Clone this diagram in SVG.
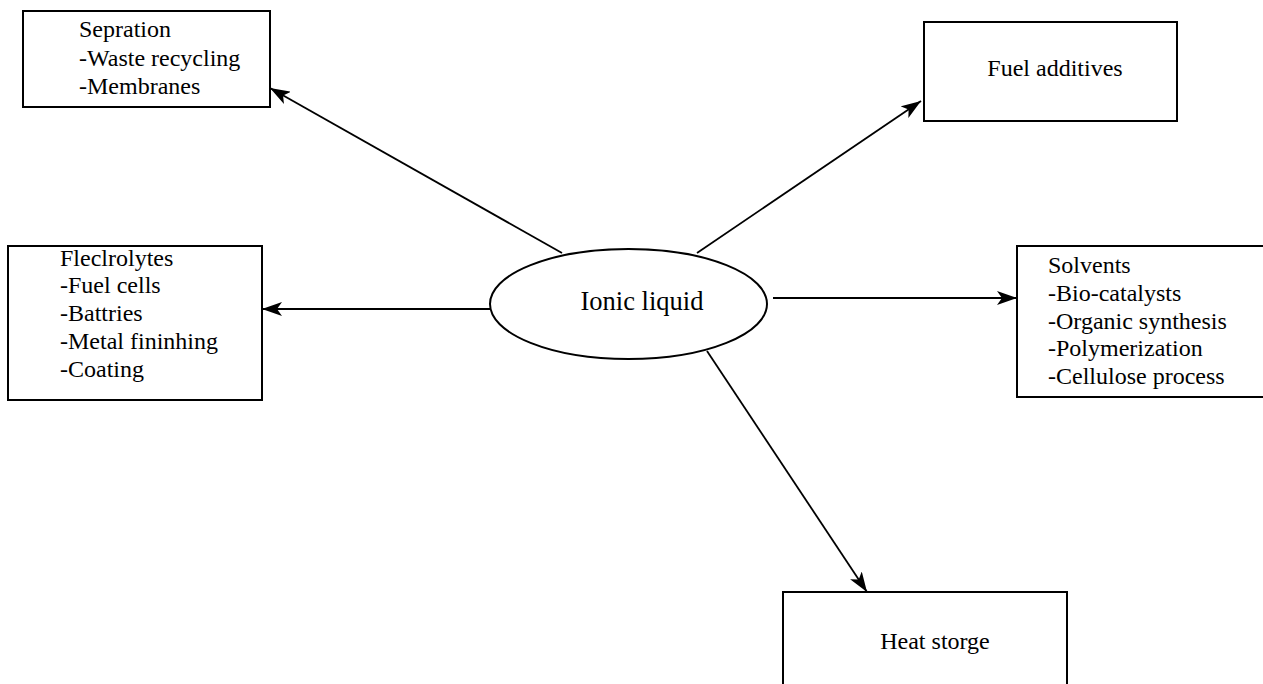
<svg xmlns="http://www.w3.org/2000/svg" width="1263" height="684" viewBox="0 0 1263 684">
<style>
.box{fill:#fff;stroke:#000;stroke-width:2}
.t{font-family:"Liberation Serif","Times New Roman",serif;font-size:24px;fill:#000}
.c{text-anchor:middle}
.ln{stroke:#000;stroke-width:1.8;fill:none;marker-end:url(#ah)}
</style>
<defs>
<marker id="ah" markerUnits="userSpaceOnUse" markerWidth="22" markerHeight="14" refX="20" refY="7" orient="auto">
<path d="M0,0 L20,7 L0,14 L5,7 z" fill="#000"/>
</marker>
</defs>
<rect width="1263" height="684" fill="#fff"/>
<g id="connectors">
<line class="ln" x1="562" y1="253" x2="270" y2="88"/>
<line class="ln" x1="697" y1="253" x2="921" y2="101"/>
<line class="ln" x1="490" y1="309" x2="262" y2="309"/>
<line class="ln" x1="773" y1="298" x2="1017" y2="298"/>
<line class="ln" x1="707" y1="351" x2="867" y2="592"/>
</g>
<g id="ionic">
<ellipse cx="628.5" cy="304" rx="138.5" ry="55" fill="#fff" stroke="#000" stroke-width="2"/>
<text class="t c" x="642" y="310" style="font-size:26.5px">Ionic liquid</text>
</g>
<g id="sepration">
<rect class="box" x="23" y="11" width="247" height="96"/>
<text class="t" x="79" y="37">Sepration</text>
<text class="t" x="79" y="66">-Waste recycling</text>
<text class="t" x="79" y="94">-Membranes</text>
</g>
<g id="fuel">
<rect class="box" x="924" y="22" width="253" height="99"/>
<text class="t c" x="1055" y="76">Fuel additives</text>
</g>
<g id="electrolytes">
<rect class="box" x="8" y="246" width="254" height="154"/>
<text class="t" x="60" y="266">Fleclrolytes</text>
<text class="t" x="60" y="293">-Fuel cells</text>
<text class="t" x="60" y="321">-Battries</text>
<text class="t" x="60" y="349">-Metal fininhing</text>
<text class="t" x="60" y="377">-Coating</text>
</g>
<g id="solvents">
<rect class="box" x="1017" y="246" width="250" height="151"/>
<text class="t" x="1048" y="273">Solvents</text>
<text class="t" x="1048" y="301">-Bio-catalysts</text>
<text class="t" x="1048" y="329">-Organic synthesis</text>
<text class="t" x="1048" y="356">-Polymerization</text>
<text class="t" x="1048" y="384">-Cellulose process</text>
</g>
<g id="heat">
<rect class="box" x="783" y="592" width="284" height="110"/>
<text class="t c" x="935" y="649">Heat storge</text>
</g>
</svg>
